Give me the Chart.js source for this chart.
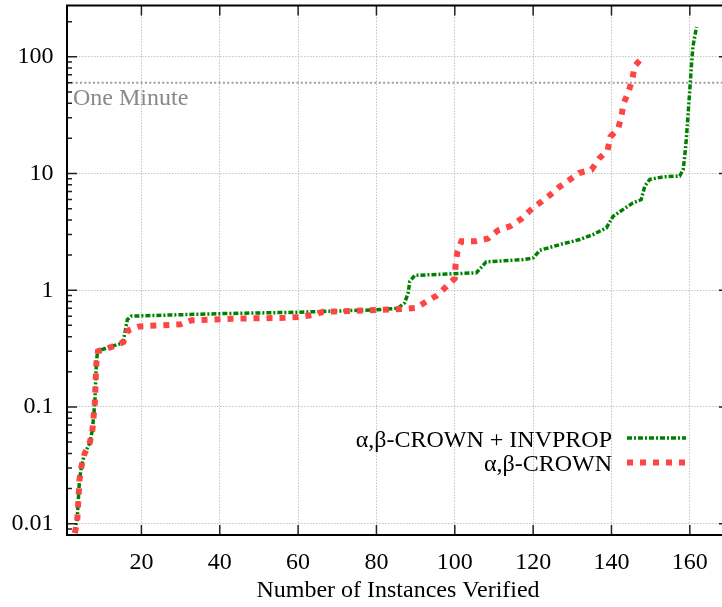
<!DOCTYPE html>
<html>
<head>
<meta charset="utf-8">
<title>Number of Instances Verified</title>
<script src="https://cdn.jsdelivr.net/npm/chart.js@4.4.1/dist/chart.umd.min.js"></script>
<style>
  html, body { margin: 0; padding: 0; overflow: hidden; background: #fff; }
  #wrap { position: absolute; left: 0; top: 0; width: 740px; height: 607px; }
</style>
</head>
<body>
<div id="wrap"><canvas id="cactus" width="740" height="607"></canvas></div>
<script>
// instances verified (x) against time in seconds (y)
const invpropCounts = [3, 3.6, 4.2, 4.7, 5.5, 6.8, 7.5, 8.1, 8.5, 8.8,
    11.9, 15.3, 16.4, 17.4, 40, 60, 80, 85.5, 87.2, 88.1,
    88.5, 89.8, 105.5, 108, 117.4, 120, 121.7, 126.8, 131.9, 135.3,
    138.7, 140.4, 142.9, 145.5, 147.6, 148.5, 149.8, 153.2, 157.4, 158.3,
    158.7, 159.1, 159.4, 160, 160.4, 160.8, 161.7];
const invpropTimes = [0.0085, 0.011, 0.024, 0.031, 0.040, 0.049, 0.064, 0.108, 0.24, 0.30,
    0.327, 0.354, 0.56, 0.60, 0.63, 0.648, 0.68, 0.70, 0.78, 0.95,
    1.19, 1.34, 1.41, 1.75, 1.83, 1.89, 2.2, 2.46, 2.72, 3.0,
    3.42, 4.3, 4.9, 5.6, 6.0, 7.8, 8.9, 9.37, 9.5, 10.8,
    14.1, 19.6, 27.2, 52.5, 83, 123, 180];

const crownCounts = [3, 3.6, 4.2, 4.7, 5.5, 6.8, 7.5, 8.1, 8.5, 8.9,
    12.2, 15.4, 16.5, 19.5, 30, 32.8, 43, 56.6, 60, 63.4,
    66.4, 76.6, 86.8, 90.2, 92.7, 95.4, 97.8, 100, 100.2, 100.7,
    101.7, 105.3, 108.5, 111, 114.2, 117, 119.3, 121.7, 124.2, 126.5,
    129.2, 131.7, 134.9, 136.8, 139, 139.7, 141.7, 142.5, 143.1, 144.4,
    145.3, 145.9, 148];
const crownTimes = [0.0083, 0.0105, 0.024, 0.031, 0.040, 0.049, 0.064, 0.108, 0.24, 0.30,
    0.325, 0.36, 0.45, 0.49, 0.51, 0.553, 0.57, 0.58, 0.59, 0.61,
    0.653, 0.67, 0.69, 0.706, 0.80, 0.90, 1.07, 1.26, 1.66, 2.16,
    2.63, 2.63, 2.77, 3.25, 3.54, 4.09, 4.85, 5.6, 6.5, 7.6,
    8.8, 10.1, 10.8, 13.4, 15.8, 20.6, 24.2, 30.6, 39.8, 50.7,
    63.9, 83, 100];

const xTicks = [20, 40, 60, 80, 100, 120, 140, 160];
const yTicks = [0.01, 0.1, 1, 10, 100];
const yTickLabels = ['0.01', '0.1', '1', '10', '100'];
const seriesLabels = ['α,β-CROWN + INVPROP', 'α,β-CROWN'];
const oneMinute = 60;
const oneMinuteLabel = 'One Minute';

const SERIF = "'Liberation Serif', 'Times New Roman', serif";

const toPoints = (xs, ys) => xs.map((v, i) => ({ x: v, y: ys[i] }));

const decorPlugin = {
    id: 'decor',
    beforeDatasetsDraw(chart) {
        const { ctx, chartArea: a, scales: { y } } = chart;
        const py = y.getPixelForValue(oneMinute);
        ctx.save();
        ctx.strokeStyle = '#9c9c9c';
        ctx.lineWidth = 2;
        ctx.setLineDash([2, 2.33]);
        ctx.beginPath();
        ctx.moveTo(a.left, py);
        ctx.lineTo(a.right, py);
        ctx.stroke();
        ctx.fillStyle = '#888';
        ctx.font = '24px ' + SERIF;
        ctx.textAlign = 'left';
        ctx.textBaseline = 'alphabetic';
        ctx.fillText(oneMinuteLabel, a.left + 6, py + 22);
        ctx.restore();
    },
    afterDatasetsDraw(chart) {
        const { ctx, chartArea: a, scales: { x, y } } = chart;
        ctx.save();
        ctx.strokeStyle = '#222';
        ctx.lineWidth = 1.5;
        ctx.beginPath();
        xTicks.forEach(v => {
            const px = x.getPixelForValue(v);
            ctx.moveTo(px, a.bottom);
            ctx.lineTo(px, a.bottom - 10);
            ctx.moveTo(px, a.top);
            ctx.lineTo(px, a.top + 10);
        });
        // log ticks: long at decades, short in between
        for (let e = -3; e <= 2; e++) {
            for (let m = 1; m <= 9; m++) {
                const v = m * Math.pow(10, e);
                if (v < y.min || v > y.max) continue;
                const py = y.getPixelForValue(v);
                const len = m === 1 ? 10 : 5;
                ctx.moveTo(a.left, py);
                ctx.lineTo(a.left + len, py);
                ctx.moveTo(a.right, py);
                ctx.lineTo(a.right - len, py);
            }
        }
        ctx.stroke();
        ctx.strokeStyle = '#000';
        ctx.lineWidth = 2;
        ctx.strokeRect(a.left, a.top, a.right - a.left, a.bottom - a.top);
        ctx.restore();
    },
    afterDraw(chart) {
        const { ctx } = chart;
        ctx.save();
        ctx.font = '24px ' + SERIF;
        ctx.textAlign = 'right';
        ctx.textBaseline = 'alphabetic';
        chart.data.datasets.forEach((ds, i) => {
            const ly = 438 + i * 24.5;
            ctx.fillStyle = '#000';
            ctx.fillText(ds.label, 612, ly + 8.5);
            ctx.strokeStyle = ds.borderColor;
            ctx.lineWidth = ds.borderWidth;
            ctx.lineCap = 'butt';
            ctx.setLineDash(ds.borderDash);
            ctx.beginPath();
            ctx.moveTo(627, ly);
            ctx.lineTo(686, ly);
            ctx.stroke();
        });
        ctx.restore();
    }
};

document.addEventListener('DOMContentLoaded', () => {
    const ctx = document.getElementById('cactus');

    new Chart(ctx, {
        type: 'line',
        data: {
            datasets: [{
                label: seriesLabels[0],
                data: toPoints(invpropCounts, invpropTimes),
                borderColor: '#008000',
                borderWidth: 3.5,
                borderDash: [5, 2, 2, 2],
                pointRadius: 0,
                tension: 0,
                order: 1
            }, {
                label: seriesLabels[1],
                data: toPoints(crownCounts, crownTimes),
                borderColor: 'rgb(255, 68, 68)',
                borderWidth: 6,
                borderDash: [6, 7],
                borderCapStyle: 'butt',
                pointRadius: 0,
                tension: 0,
                order: 0
            }]
        },
        options: {
            responsive: false,
            animation: false,
            devicePixelRatio: 1,
            layout: { padding: { top: 5.5, right: 11, left: 0, bottom: 0 } },
            scales: {
                x: {
                    type: 'linear',
                    min: 1,
                    max: 170,
                    afterBuildTicks: s => { s.ticks = xTicks.map(v => ({ value: v })); },
                    afterFit: s => { s.height = 72; s.paddingLeft = 0; s.paddingRight = 0; },
                    grid: { color: '#c4c4c4', lineWidth: 1, drawTicks: false },
                    border: { display: false, dash: [1.5, 1.5] },
                    ticks: {
                        color: '#000',
                        font: { family: SERIF, size: 24 },
                        padding: 13,
                        autoSkip: false,
                        maxRotation: 0
                    },
                    title: {
                        display: true,
                        text: 'Number of Instances Verified',
                        color: '#000',
                        font: { family: SERIF, size: 24 },
                        padding: { top: 0, bottom: 2 }
                    }
                },
                y: {
                    type: 'logarithmic',
                    min: 0.008,
                    max: 275,
                    afterBuildTicks: s => { s.ticks = yTicks.map(v => ({ value: v, major: true })); },
                    afterFit: s => { s.width = 67; s.paddingTop = 0; s.paddingBottom = 0; },
                    grid: { color: '#c4c4c4', lineWidth: 1, drawTicks: false },
                    border: { display: false, dash: [1.5, 1.5] },
                    ticks: {
                        color: '#000',
                        font: { family: SERIF, size: 24 },
                        padding: 13.5,
                        autoSkip: false,
                        callback: value => yTickLabels[yTicks.indexOf(value)]
                    }
                }
            },
            plugins: {
                legend: { display: false },
                tooltip: { enabled: false }
            }
        },
        plugins: [decorPlugin]
    });
});
</script>
</body>
</html>
